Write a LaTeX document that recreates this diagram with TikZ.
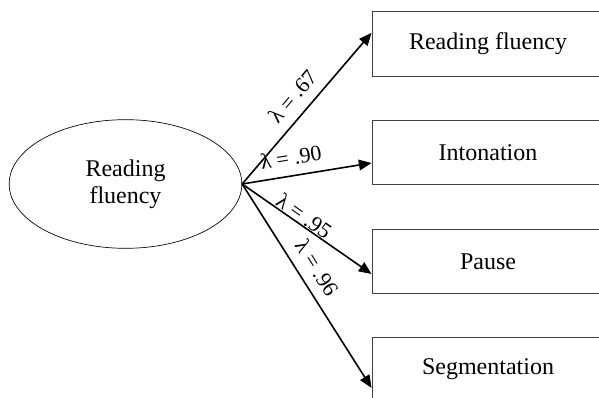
\documentclass[tikz,border=0pt]{standalone}
\RequirePackage{fontspec}
\RequirePackage{tikz}
\usetikzlibrary{arrows.meta,calc,shapes.geometric}
\setmainfont{Liberation Serif}

\begin{document}
\begin{tikzpicture}[x=0.75pt,y=-0.75pt,
                latent/.style={draw,line width=0.5pt,ellipse,minimum width=174.5pt,minimum height=96.5pt,
                    align=center,font=\fontsize{18}{20.5}\selectfont},
                indicator/.style={draw=black!75,line width=0.7pt,rectangle,minimum width=174pt,
                    minimum height=48.5pt,font=\fontsize{18}{20.5}\selectfont},
                loading/.style={-{Triangle[length=9.5pt,width=8pt]},line width=1.2pt},
                lambda/.style={sloped,font=\fontsize{16.5}{18}\selectfont}]
                \useasboundingbox (0,0) rectangle (599,398);
                \clip (0,0) rectangle (599,398);

                \node[latent] (rf) at (125.5,184) {Reading\\fluency};

                \node[indicator] (fl) at (488,44) {Reading fluency};
                \node[indicator] (in) at (488,152.5) {Intonation};
                \node[indicator] (pa) at (488,261.5) {Pause};
                \node[indicator] (se) at (488,369.5) {Segmentation};

                \coordinate (fl-in) at ($(fl.north west)!0.33!(fl.south west)$);
                \coordinate (in-in) at ($(in.north west)!0.66!(in.south west)$);
                \coordinate (pa-in) at ($(pa.north west)!0.69!(pa.south west)$);
                \coordinate (se-in) at ($(se.north west)!0.78!(se.south west)$);

                \draw[loading] (rf.east) -- node[lambda,above=4pt,pos=0.5] {λ = .67} (fl-in);
                \draw[loading] (rf.east) -- node[lambda,above=4pt,pos=0.4] {λ = .90} (in-in);
                \draw[loading] (rf.east) -- node[lambda,above=-3pt,pos=0.44] {λ = .95} (pa-in);
                \draw[loading] (rf.east) -- node[lambda,above=4pt,pos=0.46] {λ = .96} (se-in);

            \end{tikzpicture}
\end{document}
